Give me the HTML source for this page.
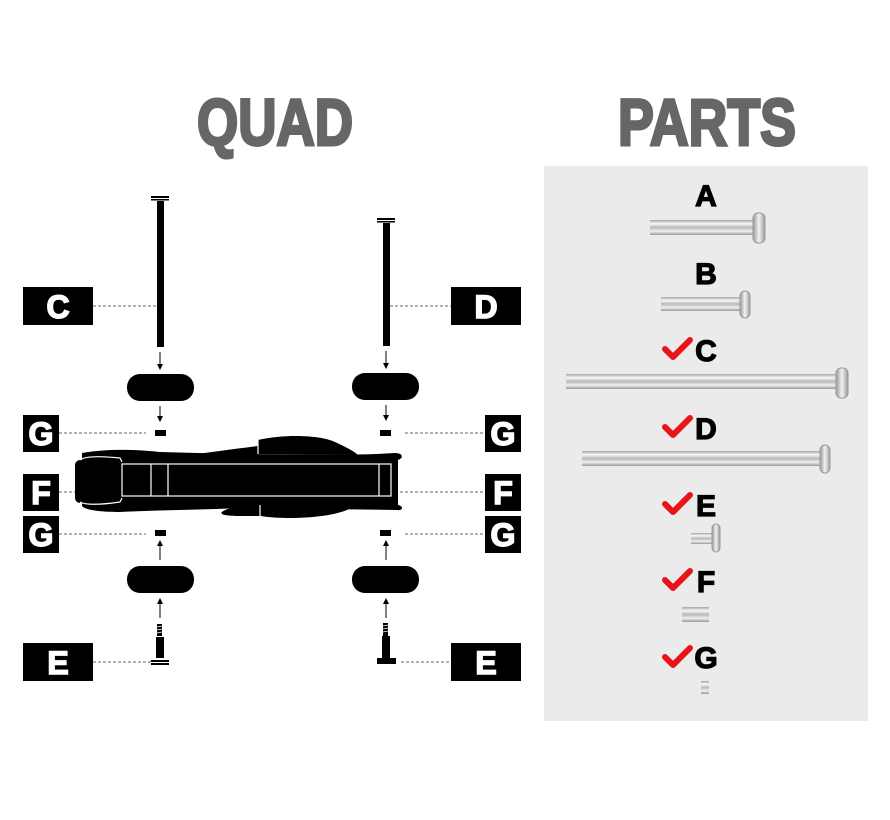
<!DOCTYPE html>
<html><head><meta charset="utf-8"><style>
html,body{margin:0;padding:0;background:#fff;}
svg{display:block;}
text{font-family:"Liberation Sans Narrow","Liberation Sans",sans-serif;font-weight:bold;}
</style></head><body>
<svg width="890" height="820" viewBox="0 0 890 820" xmlns="http://www.w3.org/2000/svg">
<defs>
<linearGradient id="pin" x1="0" y1="0" x2="0" y2="1">
<stop offset="0" stop-color="#a5a5a5"/><stop offset="0.25" stop-color="#f8f8f8"/><stop offset="0.5" stop-color="#b8b8b8"/><stop offset="0.75" stop-color="#f0f0f0"/><stop offset="1" stop-color="#999"/>
</linearGradient>
<linearGradient id="head" x1="0" y1="0" x2="1" y2="0">
<stop offset="0" stop-color="#999"/><stop offset="0.5" stop-color="#f2f2f2"/><stop offset="1" stop-color="#999"/>
</linearGradient>
</defs>
<text x="275" y="145" font-size="66" fill="#666" stroke="#666" stroke-width="3" text-anchor="middle" textLength="156" lengthAdjust="spacingAndGlyphs">QUAD</text>
<text x="707" y="145" font-size="66" fill="#666" stroke="#666" stroke-width="3" text-anchor="middle" textLength="178" lengthAdjust="spacingAndGlyphs">PARTS</text>
<rect x="544" y="166" width="324" height="555" fill="#ebebeb"/>

<g stroke="#666" stroke-width="1" stroke-dasharray="3,2">
<line x1="93" y1="306" x2="158" y2="306"/>
<line x1="390" y1="306" x2="451" y2="306"/>
<line x1="59" y1="433" x2="146" y2="433"/>
<line x1="405" y1="433" x2="485" y2="433"/>
<line x1="59" y1="492" x2="75" y2="492"/>
<line x1="395" y1="492" x2="485" y2="492"/>
<line x1="59" y1="534" x2="146" y2="534"/>
<line x1="405" y1="534" x2="485" y2="534"/>
<line x1="93" y1="662" x2="152" y2="662"/>
<line x1="401" y1="662" x2="451" y2="662"/>
</g>

<g fill="#000">
<rect x="23" y="287" width="70" height="38"/>
<rect x="451" y="287" width="70" height="38"/>
<rect x="23" y="415" width="36" height="37"/>
<rect x="485" y="415" width="36" height="37"/>
<rect x="23" y="474" width="36" height="37"/>
<rect x="485" y="474" width="36" height="37"/>
<rect x="23" y="516" width="36" height="37"/>
<rect x="485" y="516" width="36" height="37"/>
<rect x="23" y="643" width="70" height="38"/>
<rect x="451" y="643" width="70" height="38"/>
</g>
<g fill="#fff" stroke="#fff" stroke-width="1.5" font-size="32" text-anchor="middle">
<text x="58" y="318">C</text><text x="486" y="318">D</text>
<text x="41" y="445">G</text><text x="503" y="445">G</text>
<text x="41" y="504">F</text><text x="503" y="504">F</text>
<text x="41" y="546">G</text><text x="503" y="546">G</text>
<text x="58" y="674">E</text><text x="486" y="674">E</text>
</g>

<g fill="#000">
<rect x="151" y="196" width="18" height="2"/><rect x="151" y="199" width="18" height="1.5"/>
<rect x="157" y="201" width="7" height="146"/>
<rect x="377" y="218" width="18" height="2"/><rect x="377" y="221" width="18" height="1.5"/>
<rect x="383" y="223" width="7" height="123"/>
</g>
<g stroke="#000" stroke-width="1">
<line x1="160" y1="352" x2="160" y2="364"/><line x1="386" y1="351" x2="386" y2="363"/>
<line x1="160" y1="406" x2="160" y2="416"/><line x1="386" y1="405" x2="386" y2="415"/>
<line x1="160" y1="546" x2="160" y2="560"/><line x1="386" y1="546" x2="386" y2="560"/>
<line x1="160" y1="604" x2="160" y2="618"/><line x1="386" y1="604" x2="386" y2="618"/>
</g>
<g fill="#000">
<path d="M157,364 L163,364 L160,370Z"/><path d="M383,363 L389,363 L386,369Z"/>
<path d="M157,416 L163,416 L160,422Z"/><path d="M383,415 L389,415 L386,421Z"/>
<path d="M157,546 L163,546 L160,540Z"/><path d="M383,546 L389,546 L386,540Z"/>
<path d="M157,604 L163,604 L160,598Z"/><path d="M383,604 L389,604 L386,598Z"/>
</g>
<g fill="#000">
<rect x="127" y="374" width="67" height="27" rx="13"/>
<rect x="352" y="373" width="67" height="27" rx="13"/>
<rect x="127" y="566" width="67" height="27" rx="13"/>
<rect x="352" y="566" width="67" height="27" rx="13"/>
<rect x="155" y="430" width="11" height="6"/><rect x="380" y="430" width="11" height="6"/>
<rect x="155" y="530" width="11" height="6"/><rect x="380" y="530" width="11" height="6"/>
</g>
<g fill="#000">
<rect x="157" y="624" width="5" height="12"/>
<rect x="156" y="637" width="8" height="21"/>
<rect x="151" y="660" width="18" height="2"/><rect x="151" y="663" width="18" height="2"/>
<rect x="383" y="623" width="5" height="13"/>
<rect x="382" y="636" width="8" height="22"/>
<rect x="377" y="658" width="19" height="6"/>
</g>
<g stroke="#fff" stroke-width="0.8">
<line x1="157" y1="627" x2="162" y2="626"/><line x1="157" y1="630" x2="162" y2="629"/><line x1="157" y1="633" x2="162" y2="632"/>
<line x1="383" y1="626" x2="388" y2="625"/><line x1="383" y1="629" x2="388" y2="628"/><line x1="383" y1="632" x2="388" y2="631"/>
</g>

<!-- deck -->
<g fill="#000">
<path d="M258,454 L258,440 C285,434 320,435 335,442 C348,448 355,452 358,455Z"/>
<path d="M185,456 C210,452 235,449 258,446 L258,456Z"/>
<path d="M234,507 L352,507 C345,513 320,518 290,518 C270,518 262,516 260,516 L240,516 C225,516 210,514 234,507Z"/>
<path d="M82,453 C110,448 140,450 160,452 L235,454 C290,454 350,456 395,453 C403,453 404,458 398,460 L398,505 C404,506 403,511 397,510 L240,508 C200,510 160,510 120,512 C100,512 85,510 82,506 Z"/>
<rect x="75" y="460" width="47" height="43" rx="5"/>
</g>
<g fill="none" stroke="#fff" stroke-width="1.2">
<rect x="122" y="464" width="269" height="32"/>
<line x1="151" y1="464" x2="151" y2="496"/><line x1="168" y1="464" x2="168" y2="496"/>
<line x1="379" y1="464" x2="379" y2="496"/>
<line x1="258" y1="454" x2="258" y2="440"/>
<line x1="260" y1="505" x2="260" y2="518"/>
<path d="M122,462 L120,458 C100,456 85,456 80,460"/>
<path d="M122,498 L120,502 C100,505 85,505 80,502"/>
</g>

<g font-size="30" fill="#000" stroke="#000" stroke-width="1.2" text-anchor="middle">
<text x="706" y="206">A</text>
<text x="706" y="284">B</text>
<text x="706" y="361">C</text>
<text x="706" y="439">D</text>
<text x="706" y="516">E</text>
<text x="706" y="592">F</text>
<text x="706" y="668">G</text>
</g>
<g fill="none" stroke="#e8141c" stroke-width="6" stroke-linecap="round" stroke-linejoin="round">
<path d="M665,349 L673,357 L690,340"/>
<path d="M665,427 L673,435 L690,418"/>
<path d="M665,504 L673,512 L690,495"/>
<path d="M665,580 L673,588 L690,571"/>
<path d="M665,657 L673,665 L690,648"/>
</g>
<rect x="650" y="220" width="106" height="15" fill="url(#pin)"/>
<rect x="753" y="213" width="12" height="30" rx="5" fill="url(#head)" stroke="#999"/>
<rect x="661" y="297" width="80" height="14" fill="url(#pin)"/>
<rect x="740" y="291" width="10" height="27" rx="5" fill="url(#head)" stroke="#999"/>
<rect x="566" y="374" width="272" height="15" fill="url(#pin)"/>
<rect x="836" y="368" width="12" height="30" rx="5" fill="url(#head)" stroke="#999"/>
<rect x="582" y="451" width="240" height="15" fill="url(#pin)"/>
<rect x="820" y="445" width="10" height="28" rx="5" fill="url(#head)" stroke="#999"/>
<rect x="691" y="533" width="22" height="11" fill="url(#pin)"/>
<rect x="712" y="524" width="8" height="28" rx="4" fill="url(#head)" stroke="#999"/>
<rect x="682" y="607" width="27" height="15" fill="url(#pin)"/>
<rect x="701" y="681" width="8" height="13" fill="url(#pin)"/>
</svg>
</body></html>
